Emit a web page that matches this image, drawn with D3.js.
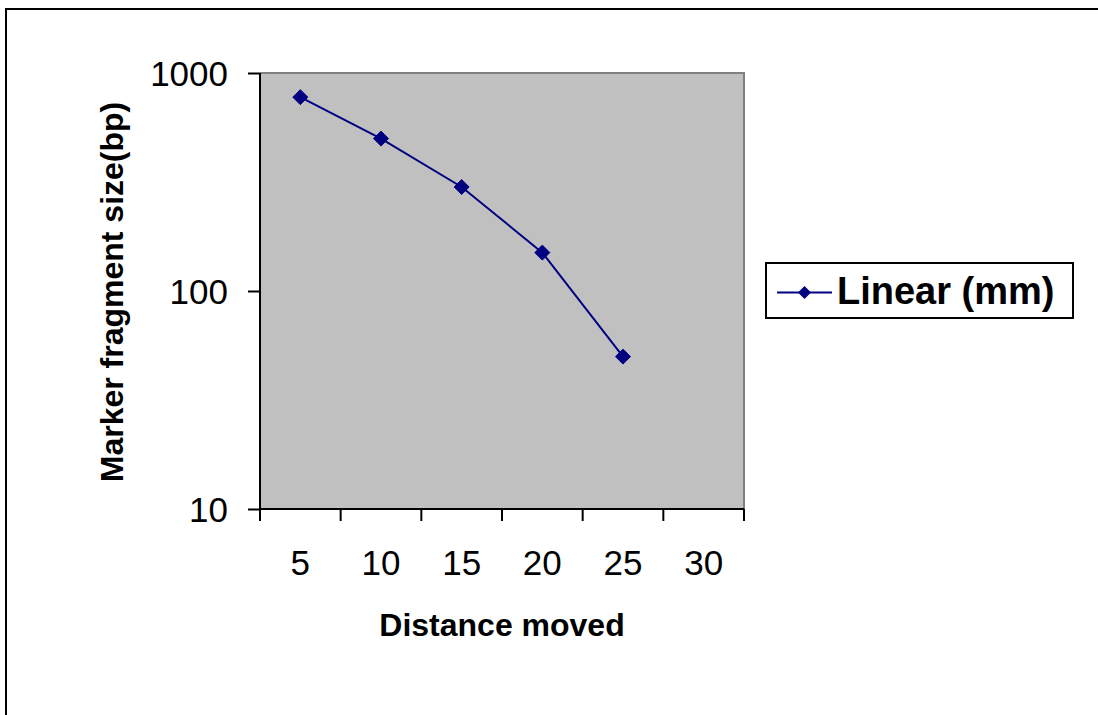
<!DOCTYPE html>
<html>
<head>
<meta charset="utf-8">
<script src="https://cdn.jsdelivr.net/npm/d3@7"></script>
<style>
  html, body { margin: 0; padding: 0; background: #ffffff; overflow: hidden; }
  svg { display: block; }
  text { font-family: Arial, "Liberation Sans", sans-serif; }
</style>
</head>
<body>
<svg id="chart" width="1098" height="715"></svg>
<script>
// ---- data ----
const categories = ["5", "10", "15", "20", "25", "30"];
const seriesX = ["5", "10", "15", "20", "25"];
const seriesValues = [775, 500, 300, 150, 50];
const yTickValues = [10, 100, 1000];
const seriesName = "Linear (mm)";
const xTitle = "Distance moved";
const yTitle = "Marker fragment size(bp)";

// ---- layout ----
const W = 1098, H = 715;
const plot = { left: 260, right: 744, top: 73, bottom: 509 };
const navy = "#000080";

const svg = d3.select("#chart");

// outer chart border (clipped at right/bottom like the reference)
svg.append("rect")
  .attr("x", 6).attr("y", 9)
  .attr("width", W + 20).attr("height", H + 20)
  .attr("fill", "#ffffff")
  .attr("stroke", "#000").attr("stroke-width", 2);

const x = d3.scaleBand().domain(categories).range([plot.left, plot.right]).padding(0);
const y = d3.scaleLog().domain([10, 1000]).range([plot.bottom, plot.top]);

// plot area
svg.append("rect")
  .attr("x", plot.left).attr("y", plot.top)
  .attr("width", plot.right - plot.left).attr("height", plot.bottom - plot.top)
  .attr("fill", "#C0C0C0");
// gray top & right border
svg.append("path")
  .attr("d", `M${plot.left},${plot.top}H${plot.right}V${plot.bottom}`)
  .attr("fill", "none").attr("stroke", "#808080").attr("stroke-width", 2);

// y axis
const yAxis = d3.axisLeft(y).tickValues(yTickValues).tickFormat(d3.format("d"))
  .tickSize(12).tickPadding(20);
const gy = svg.append("g").attr("transform", `translate(${plot.left},0)`).call(yAxis);
gy.select(".domain").attr("stroke", "#000").attr("stroke-width", 2)
  .attr("d", `M0,${plot.top}V${plot.bottom}`);
gy.selectAll(".tick line").attr("stroke", "#000").attr("stroke-width", 2);
gy.selectAll(".tick text").attr("font-size", 35).attr("fill", "#000")
  .attr("font-family", "Arial, 'Liberation Sans', sans-serif").attr("dy", "0.36em");

// x axis (ticks between categories)
const edges = categories.map(c => x(c)).concat([x(categories[categories.length - 1]) + x.bandwidth()]);
const gx = svg.append("g");
gx.append("line")
  .attr("x1", plot.left).attr("x2", plot.right)
  .attr("y1", plot.bottom).attr("y2", plot.bottom)
  .attr("stroke", "#000").attr("stroke-width", 2);
gx.selectAll("line.tk").data(edges).enter().append("line").attr("class", "tk")
  .attr("x1", d => d).attr("x2", d => d)
  .attr("y1", plot.bottom).attr("y2", plot.bottom + 12)
  .attr("stroke", "#000").attr("stroke-width", 2);
gx.selectAll("text").data(categories).enter().append("text")
  .attr("x", d => x(d) + x.bandwidth() / 2)
  .attr("y", 575)
  .attr("text-anchor", "middle")
  .attr("font-size", 35).attr("fill", "#000")
  .text(d => d);

// axis titles
svg.append("text")
  .attr("x", (plot.left + plot.right) / 2).attr("y", 636)
  .attr("text-anchor", "middle").attr("font-size", 32).attr("font-weight", "bold")
  .text(xTitle);
svg.append("text")
  .attr("transform", `translate(123,${(plot.top + plot.bottom) / 2 + 1}) rotate(-90)`)
  .attr("text-anchor", "middle").attr("font-size", 32).attr("font-weight", "bold")
  .text(yTitle);

// series
const pts = seriesX.map((c, i) => ({ c, v: seriesValues[i] }));
const line = d3.line().x(d => x(d.c) + x.bandwidth() / 2).y(d => y(d.v));
svg.append("path").datum(pts)
  .attr("d", line).attr("fill", "none")
  .attr("stroke", navy).attr("stroke-width", 2);
const diamond = r => `M0,${-r}L${r},0L0,${r}L${-r},0Z`;
svg.selectAll("path.mk").data(pts).enter().append("path").attr("class", "mk")
  .attr("transform", d => `translate(${x(d.c) + x.bandwidth() / 2},${y(d.v)})`)
  .attr("d", diamond(7.5)).attr("fill", navy).attr("stroke", navy).attr("stroke-width", 1);

// legend
const lg = svg.append("g");
lg.append("rect").attr("x", 766).attr("y", 263).attr("width", 307).attr("height", 55)
  .attr("fill", "#fff").attr("stroke", "#000").attr("stroke-width", 2);
lg.append("line").attr("x1", 777).attr("x2", 832).attr("y1", 292.5).attr("y2", 292.5)
  .attr("stroke", navy).attr("stroke-width", 2);
lg.append("path").attr("transform", "translate(804.5,292.5)")
  .attr("d", diamond(6.5)).attr("fill", navy);
lg.append("text").attr("x", 837).attr("y", 304)
  .attr("font-size", 38).attr("font-weight", "bold").text(seriesName);
</script>
</body>
</html>
